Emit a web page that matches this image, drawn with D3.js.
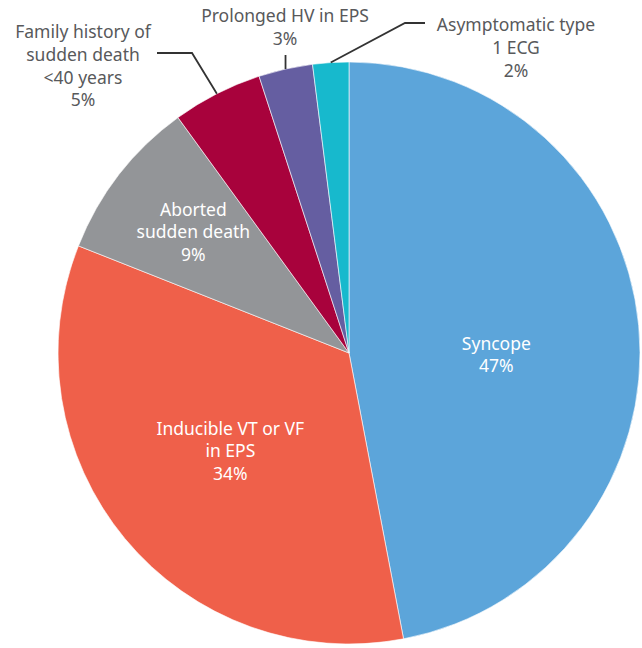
<!DOCTYPE html>
<html>
<head>
<meta charset="utf-8">
<script src="https://cdn.jsdelivr.net/npm/d3@7"></script>
<style>
  body { margin: 0; background: #fff; }
  svg text { font-family: "Noto Sans", sans-serif; font-size: 17.5px; }
</style>
</head>
<body>
<svg id="chart" width="642" height="648"></svg>
<script>
// slice data, clockwise from 12 o'clock
var categories = ['Syncope', 'Inducible VT or VF in EPS', 'Aborted sudden death',
  'Family history of sudden death <40 years', 'Prolonged HV in EPS', 'Asymptomatic type 1 ECG'];
var values = [47, 34, 9, 5, 3, 2];
var labelLines = [
  ['Syncope', '47%'],
  ['Inducible VT or VF', 'in EPS', '34%'],
  ['Aborted', 'sudden death', '9%'],
  ['Family history of', 'sudden death', '<40 years', '5%'],
  ['Prolonged HV in EPS', '3%'],
  ['Asymptomatic type', '1 ECG', '2%']
];
var colors = ['#5ca5da', '#ef604a', '#939598', '#a8023c', '#655ea1', '#17b9cd'];

var svg = d3.select('#chart');
var cx = 349, cy = 353, r = 291;
var g = svg.append('g').attr('transform', 'translate(' + cx + ',' + cy + ')');

var pie = d3.pie().sort(null).value(function(d) { return d; });
var arcs = pie(values);
var arc = d3.arc().innerRadius(0).outerRadius(r);

g.selectAll('path.slice')
  .data(arcs)
  .enter().append('path')
  .attr('class', 'slice')
  .attr('d', arc)
  .attr('fill', function(d, i) { return colors[i]; })
  .attr('stroke', '#fff')
  .attr('stroke-width', 0.6);

// inside labels: radius along the mid angle, plus a small vertical nudge
var inside = { 0: [148, 16], 1: [154, 0], 2: [197, 0] };
var lh = 22.5;

function pointAt(d, rad) {
  var a = (d.startAngle + d.endAngle) / 2;
  return [rad * Math.sin(a), -rad * Math.cos(a)];
}

Object.keys(inside).forEach(function(k) {
  var i = +k, d = arcs[i];
  var p = pointAt(d, inside[k][0]);
  var lines = labelLines[i];
  var t = g.append('text')
    .attr('text-anchor', 'middle')
    .attr('fill', '#fff');
  lines.forEach(function(s, j) {
    t.append('tspan')
      .attr('x', p[0])
      .attr('y', p[1] + inside[k][1] + (j - (lines.length - 1) / 2) * lh + 6)
      .text(s);
  });
});

// outside labels with leader lines (positions in page coords)
var outside = {
  3: { x: 83, y: 38, path: function(p) { return [[157, 53], [192, 53], p]; } },
  4: { x: 285, y: 22, path: function(p) { return [[p[0], 55], p]; } },
  5: { x: 516, y: 31, path: function(p) { return [[425, 23], [405, 23], p]; } }
};

Object.keys(outside).forEach(function(k) {
  var i = +k, o = outside[k];
  var p = pointAt(arcs[i], r);
  var pt = [p[0] + cx, p[1] + cy];
  svg.append('path')
    .attr('d', d3.line()(o.path(pt)))
    .attr('fill', 'none')
    .attr('stroke', '#333')
    .attr('stroke-width', 1.8);
  var t = svg.append('text')
    .attr('text-anchor', 'middle')
    .attr('fill', '#58595b');
  labelLines[i].forEach(function(s, j) {
    t.append('tspan')
      .attr('x', o.x)
      .attr('y', o.y + j * 22.8)
      .text(s);
  });
});
</script>
</body>
</html>
